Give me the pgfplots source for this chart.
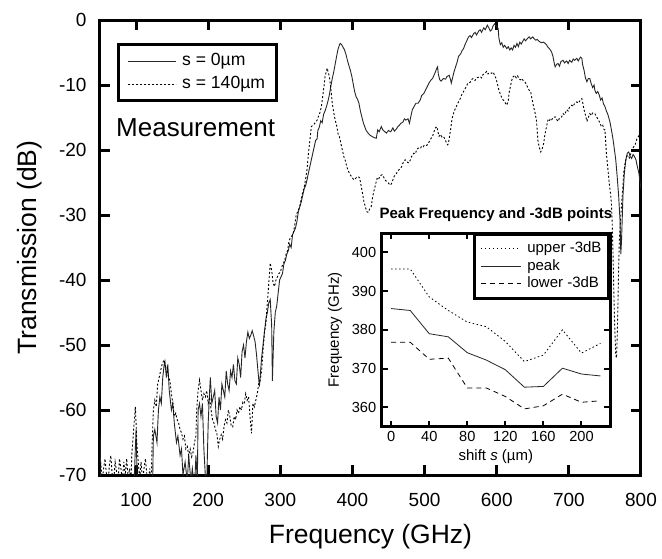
\documentclass[border=0pt]{standalone}
\usepackage{fontspec}
\setmainfont{Liberation Sans}
\usepackage{pgfplots}
\pgfplotsset{compat=1.18}

\pgfplotstableread{
f db
50 -64
51 -72
55 -74
60 -76
65 -73
70 -75
75 -72
80 -76
85 -74
90 -73
95 -75
97 -72
99 -66
100 -63
101 -68
102 -73
106 -75
110 -72
114 -76
118 -74
121 -73
123 -71
124 -64
126 -63
129 -65
131 -60
133 -58
135 -59
137 -55
139 -53
140 -52.5
142 -55
144 -53
146 -57
149 -60
151 -59
153 -62
156 -65
158 -64
161 -67
163 -66
165 -70
168 -68
171 -71
173 -67
176 -71
178 -69
181 -72
183 -67
185 -71
186 -60
188 -59
190 -61
192 -59
194 -66
196 -70
198 -71
200 -62
202 -57
203 -55
205 -59
207 -58
209 -57
211 -61
213 -62
215 -58
217 -60
219 -56
221 -57
223 -58
225 -54
227 -56
229 -57
231 -54
233 -55
235 -53
237 -55.5
239 -56
241 -52
243 -53
245 -55
247 -51
249 -50
251 -52
253 -49.5
255 -48
257 -49
259 -48.5
261 -47.8
263 -48.6
265 -49.5
267 -51.5
269 -54
271 -56.4
274 -52
276 -50
278 -48
280 -46
282 -45
284 -43.5
286 -43
288 -47
289 -55.5
291 -48
293 -45
295 -44
297 -42
299 -40
301 -39.5
303 -39
305 -37.5
307 -37
309 -36
311 -35.5
313 -34.5
315 -35
317 -33
319 -32.5
321 -32
323 -31
325 -29.5
327 -28.7
329 -28
331 -27
333 -26
335 -25.5
337 -24.6
339 -23.5
341 -22.5
343 -21.5
345 -20.5
347 -19.5
349 -18.5
351 -18.3
352 -17
354 -16.5
356 -15.5
358 -15.8
360 -14.5
362 -14
364 -13.3
366 -12.5
368 -11.5
370 -10.2
372 -9
374 -8
376 -6.8
378 -5.6
380 -4.5
382 -3.8
383 -3.6
385 -3.8
387 -4.2
389 -4.6
391 -5.3
393 -6.2
395 -7
397 -7.7
399 -8.6
401 -9.8
403 -11
405 -11.8
407 -12.2
409 -12.8
411 -14
413 -14.9
415 -15.8
417 -16.4
419 -17
421 -17.3
424 -17.7
427 -17.9
430 -18.1
433 -18.2
435 -16.9
437 -17.2
440 -16.4
442 -16.9
445 -17.2
447 -17.4
450 -17
453 -17.2
456 -16.6
458 -17.1
460 -16.9
463 -16.4
465 -16.2
467 -15.9
470 -15.7
472 -15.2
474 -15.4
477 -15.2
479 -15.9
481 -14.8
483 -13.8
486 -13.2
488 -12.8
491 -12.8
494 -12.3
496 -11.6
499 -11.3
502 -10.6
504 -10.2
506 -9.7
509 -9.2
511 -9
513 -8.5
515 -8
517 -7.4
518 -7.2
519 -8.3
521 -9.2
523 -9.4
526 -9
529 -9.1
531 -8.7
534 -8.5
536 -9.2
537 -9.7
539 -8.8
541 -7.9
543 -7.2
545 -6.5
547 -5.6
550 -5.2
552 -4.7
554 -4.4
556 -3.8
558 -3.3
561 -2.6
563 -2.4
565 -2.7
568 -2.1
570 -1.9
572 -2.3
575 -1.7
577 -1.5
579 -1.9
582 -1.2
584 -1.5
587 -0.8
589 -1.2
591 -1.7
593 -1.5
595 -0.9
597 -0.6
600 -1.0
602 -1.3
603 -2.8
605 -3.8
607 -3.5
609 -4.2
611 -3.9
614 -4.4
616 -4.1
618 -4.6
620 -4.3
622 -4.6
624 -3.9
626 -4.2
628 -3.6
630 -4.1
632 -3.4
634 -3.7
636 -3.3
638 -2.9
640 -3.2
643 -2.8
645 -2.6
647 -2.9
650 -2.6
652 -2.9
654 -3.1
656 -3.0
659 -3.3
662 -3.5
665 -3.4
669 -3.8
671 -4.2
673 -4.4
676 -4.9
678 -5.6
680 -6.8
681 -7.2
683 -6.8
685 -6.7
687 -7.1
689 -6.4
692 -6.2
694 -6.6
697 -6.3
699 -6.7
701 -6.2
704 -6.5
706 -6.0
708 -6.2
711 -5.9
713 -6.3
716 -5.7
718 -5.9
719 -6.8
721 -7.7
723 -8.9
725 -9.5
727 -9.0
729 -9.0
731 -9.8
733 -10.4
735 -10.0
736 -10.8
738 -11.3
740 -11.0
742 -11.5
744 -12.3
746 -12.0
748 -12.9
750 -13.3
752 -14.0
754 -14.5
755 -14.9
757 -15.7
759 -16.9
761 -18.2
763 -19.8
765 -21.5
767 -24.1
769 -27.0
771 -31
772 -36
773 -34
775 -27
777 -23.5
779 -21.5
781 -20.5
783 -20.3
785 -21
787 -21.3
789 -20.7
791 -21
793 -21.5
795 -22.6
797 -23.5
800 -26
}\solidzero

\pgfplotstableread{
f db
50 -70.5
51 -68
53 -71
55 -69
57 -67.5
59 -70
61 -71.5
63 -68.5
65 -67
67 -70
69 -71
71 -68
73 -69.5
75 -71
77 -67.5
79 -69
81 -71
83 -68
85 -70
87 -67.5
89 -70.5
91 -69
93 -71
94 -67
96 -64
98 -61
99 -59.5
100 -62
101 -65
103 -68
105 -70.5
107 -68
109 -71
111 -69
113 -67.5
115 -70
117 -71.5
119 -69
121 -72
122 -66
124 -60
126 -58.5
128 -59.5
130 -56
132 -55
134 -54
136 -53
138 -52.5
139 -52.3
141 -53.5
143 -53.4
145 -55
147 -55.5
149 -57.5
151 -59
153 -61
155 -60.5
157 -61.5
159 -62
161 -63
163 -63.5
165 -64.5
167 -64
169 -66
171 -65.6
173 -67
175 -66
177 -67.2
179 -66.5
181 -65
183 -64
184 -60
186 -57
188 -55.4
190 -57
192 -58.5
194 -57.5
196 -58
198 -57
200 -59
202 -58
204 -60
206 -61.5
208 -62
210 -63
212 -63.6
214 -65.6
216 -64.5
218 -63.8
220 -64.5
222 -62.5
224 -61.5
226 -62
228 -60
230 -61
232 -62.5
234 -62.6
236 -61
238 -61.5
240 -60
242 -60.5
244 -59.5
246 -60
248 -58.8
250 -59
252 -57.5
254 -58.5
256 -58
258 -61
260 -63.6
262 -59
264 -59.5
266 -58.5
268 -57.5
270 -56
272 -55.5
274 -54
276 -51
278 -48
280 -46.7
282 -43.5
284 -40.5
286 -37.4
288 -38.5
290 -40.5
292 -41
294 -40
296 -39.5
298 -39
300 -38.8
302 -38
304 -37.5
306 -37
308 -36
310 -35.5
312 -34
314 -33.5
316 -33.2
318 -32.8
320 -31.5
322 -30
324 -29.5
327 -28.7
329 -27.5
331 -26.5
333 -25.8
335 -24.5
337 -23
339 -20.5
341 -18.5
343 -16.4
345 -16.2
347 -16
349 -15.7
351 -15.4
353 -14.8
355 -14.2
357 -13.3
359 -11.5
361 -9.8
362 -8.7
364 -7.8
365 -7.4
366 -7.9
368 -8.7
370 -10.5
372 -12.8
374 -14.2
376 -15.4
378 -16.2
380 -17.5
382 -18
384 -19
386 -20
388 -21
390 -21.6
392 -22.5
394 -23.2
396 -23.6
398 -24
400 -24.3
402 -24.6
404 -24.4
406 -24.2
408 -24.1
410 -24.3
412 -25.5
414 -26.7
416 -28
418 -28.8
420 -29.5
422 -29.6
424 -29
426 -28.7
428 -27.2
430 -26.2
432 -25.3
434 -24.4
436 -24.6
438 -24
441 -23.8
443 -24.1
445 -24.6
447 -24.8
450 -25.1
452 -25.4
454 -25.2
456 -24.6
458 -24
461 -23.6
463 -23.2
465 -23
468 -22.6
470 -22
473 -21.5
475 -21.8
478 -22
480 -21.6
482 -21
485 -20.5
487 -20.6
489 -20
491 -19.7
494 -19.8
496 -19.4
498 -19.5
500 -19.2
503 -19.3
505 -19
507 -18.6
509 -18.2
511 -17.9
513 -17.2
515 -16.6
517 -16.4
519 -17.4
520 -17.9
522 -17.6
524 -18
526 -17.9
528 -18.3
530 -18.8
532 -19.2
533 -19.0
535 -17.6
536 -16.9
538 -15.2
540 -14.4
542 -13.8
544 -13.3
547 -12.6
549 -12.2
551 -11.6
553 -11.2
556 -10.6
558 -10.2
560 -9.7
563 -9.6
565 -9.2
567 -9.0
570 -9.3
572 -8.9
575 -8.8
577 -8.7
579 -8.9
581 -8.4
584 -8.2
586 -7.9
588 -8.3
590 -8.1
593 -8.2
595 -8.0
597 -8.5
599 -9.0
601 -9.8
602 -10.4
604 -11.1
606 -11.7
608 -12.2
610 -12.4
612 -12.8
614 -13.1
616 -12.4
617 -11.3
619 -10.2
621 -9.2
623 -8.7
625 -8.5
627 -8.9
629 -8.6
631 -9.1
633 -9.2
635 -9.0
637 -9.4
639 -9.5
641 -9.9
643 -10.4
645 -10.8
647 -11.0
649 -12.2
651 -13.3
653 -14.2
655 -15.4
656 -16.8
657 -18.5
659 -19.6
661 -20.3
663 -19.8
665 -19
667 -17.5
669 -16.4
671 -15.4
673 -15.6
674 -15.2
676 -15.4
678 -15.0
681 -14.9
683 -15.3
685 -15.6
687 -15.1
690 -14.9
692 -14.4
694 -14.6
697 -13.8
699 -14.0
701 -13.4
704 -13.1
706 -13.3
708 -12.8
711 -12.6
713 -12.8
716 -12.3
718 -12.1
719 -12.6
721 -13.8
723 -14.6
725 -15.6
727 -15.0
729 -14.4
731 -14.7
733 -14.3
736 -14.4
738 -14.8
741 -15.4
743 -15.8
745 -16.4
747 -16.2
749 -16.9
750 -16.9
752 -20.5
754 -22.8
756 -25.1
758 -27
759 -28.2
760 -31
761 -35
762 -40
763 -45
764 -48.5
765 -51.5
766 -52
767 -49
768 -44
769 -38
770 -34
772 -30
774 -27
776 -23.5
778 -22
780 -21
782 -20.8
784 -21.2
786 -20.5
788 -19.8
790 -19.5
792 -19.2
794 -18.4
796 -18
798 -17.6
800 -17.3
}\solidfourty

\begin{document}
\begin{tikzpicture}
\useasboundingbox (-100pt,-83pt) rectangle (562pt,475pt);
\begin{axis}[
    at={(0pt,0pt)}, anchor=south west,
    width=541pt, height=455pt, scale only axis,
    xmin=50, xmax=800, ymin=-70, ymax=0,
    xtick={100,200,...,800},
    ytick={-70,-60,...,0},
    tick align=inside,
    major tick length=10pt,
    axis line style={line width=3pt},
    major tick style={line width=3pt, black},
    /pgf/number format/assume math mode=true,
    /pgf/number format/set thousands separator={},
    tick label style={font=\fontsize{19}{19}\selectfont},
    xticklabel style={yshift=-15pt},
    yticklabel style={xshift=-10pt},
    xlabel={Frequency (GHz)},
    ylabel={Transmission (dB)},
    label style={font=\fontsize{26.5}{26.5}\selectfont},
    xlabel style={at={(axis description cs:0.5,-0.1363)}, anchor=center},
    ylabel style={at={(axis description cs:-0.1294,0.5)}, anchor=center},
    legend style={at={(axis description cs:0.0309,0.9488)}, anchor=north west,
        draw=black, line width=3pt, inner xsep=9pt, inner ysep=6pt,
        font=\fontsize{17.6}{21}\selectfont,
        nodes={inner sep=2pt, text height=13pt, text depth=4pt},
        row sep=2pt,
        /tikz/every odd column/.append style={column sep=4pt}},
    legend cell align=left,
    legend image code/.code={\draw[#1] (0pt,0pt) -- (48pt,0pt);},
]
\addplot[black!85, line width=0.9pt] table[x=f, y=db] {\solidzero};
\addplot[black, line width=0.9pt, dash pattern=on 2pt off 2pt] table[x=f, y=db] {\solidfourty};
\legend{s = 0µm, s = 140µm}
\node[anchor=base west, inner sep=0pt, font=\fontsize{26}{26}\selectfont] at (axis description cs:0.0296,0.7429) {Measurement};
\end{axis}

\begin{axis}[
    at={(281.7pt,48.3pt)}, anchor=south west,
    width=228.3pt, height=193.7pt, scale only axis,
    axis background/.style={fill=white},
    xmin=-10, xmax=230, ymin=355, ymax=405,
    xtick={0,40,...,200},
    ytick={360,370,...,400},
    tick align=inside,
    major tick length=6pt,
    axis line style={line width=3pt},
    major tick style={line width=2pt, black},
    /pgf/number format/assume math mode=true,
    tick label style={font=\fontsize{14.6}{14.6}\selectfont},
    xticklabel style={yshift=-1pt},
    yticklabel style={xshift=-2pt},
    title={Peak Frequency and -3dB points},
    title style={font=\fontsize{15}{15}\selectfont\bfseries, at={(axis description cs:0.5,1)}, anchor=base, yshift=9pt},
    xlabel={shift \textit{s} (µm)},
    ylabel={Frequency (GHz)},
    label style={font=\fontsize{15}{15}\selectfont},
    xlabel style={at={(axis description cs:0.5,-0.1534)}, anchor=center},
    ylabel style={at={(axis description cs:-0.2046,0.5)}, anchor=center},
    legend style={at={(axis description cs:1,1)}, anchor=north east,
        draw=black, line width=3pt, inner xsep=6pt, inner ysep=6pt,
        font=\fontsize{15}{17.5}\selectfont,
        nodes={inner sep=1pt, text height=11pt, text depth=3.5pt},
        row sep=1pt,
        /tikz/every odd column/.append style={column sep=5pt}},
    legend cell align=left,
    legend image code/.code={\draw[#1] (0pt,0pt) -- (40pt,0pt);},
]
\addplot[black, line width=0.8pt, dash pattern=on 1.5pt off 2.5pt] coordinates {
    (0,395.7) (20,395.7) (40,388.5) (60,385) (80,382) (100,380.8) (120,377) (140,371.8) (160,373.5) (180,380) (200,374) (220,376.5)
};
\addplot[black!85, line width=0.8pt] coordinates {
    (0,385.5) (20,385) (40,379) (60,378.2) (80,374.1) (100,372.2) (120,369.7) (140,365.2) (160,365.4) (180,370.1) (200,368.6) (220,368.1)
};
\addplot[black, line width=0.8pt, dash pattern=on 5pt off 4pt] coordinates {
    (0,376.8) (20,376.8) (40,372.4) (60,372.7) (80,365) (100,365) (120,362.8) (140,359.6) (160,360.4) (180,363.4) (200,361.3) (220,361.7)
};
\legend{upper -3dB, peak, lower -3dB}
\end{axis}
\end{tikzpicture}
\end{document}
